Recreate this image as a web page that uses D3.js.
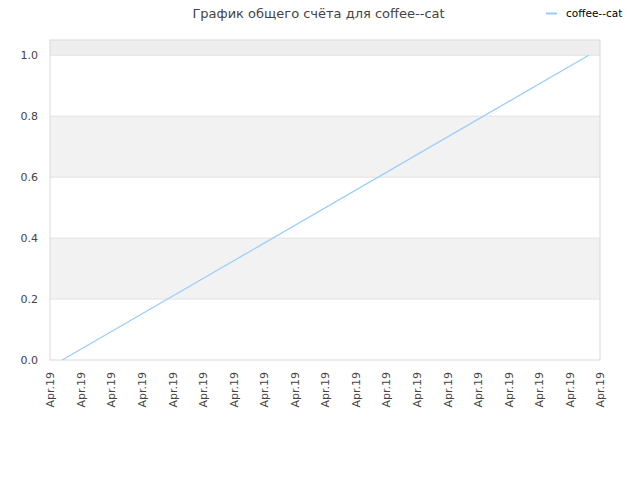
<!DOCTYPE html>
<html>
<head>
<meta charset="utf-8">
<script src="https://cdn.jsdelivr.net/npm/d3@7"></script>
<style>
  body { margin: 0; background: #fff; }
  text { font-family: "DejaVu Sans", sans-serif; }
</style>
</head>
<body>
<svg width="640" height="480"></svg>
<script>
const title = "График общего счёта для coffee--cat";
const seriesName = "coffee--cat";
// x positions in tick-interval units
const seriesX = [0.4, 17.63];
const seriesY = [0.0, 1.0];
const xTickLabels = d3.range(19).map(() => "Apr.19");
const yTicks = [0.0, 0.2, 0.4, 0.6, 0.8, 1.0];
const yMax = 1.05;

const svg = d3.select("svg");
const margin = { top: 40, right: 40, bottom: 120, left: 50 };
const width = +svg.attr("width") - margin.left - margin.right;
const height = +svg.attr("height") - margin.top - margin.bottom;
const g = svg.append("g").attr("transform", `translate(${margin.left},${margin.top})`);

const x = d3.scaleLinear().domain([0, xTickLabels.length - 1]).range([0, width]);
const y = d3.scaleLinear().domain([0, yMax]).range([height, 0]);

// alternating bands
const bands = [[0.2, 0.4], [0.6, 0.8]];
g.selectAll(".band")
  .data(bands)
  .enter()
  .append("rect")
  .attr("x", 0)
  .attr("width", width)
  .attr("y", (d) => y(d[1]))
  .attr("height", (d) => y(d[0]) - y(d[1]))
  .attr("fill", "#f2f2f2");
g.append("rect")
  .attr("x", 0)
  .attr("width", width)
  .attr("y", y(yMax))
  .attr("height", y(1.0) - y(yMax))
  .attr("fill", "#eeeeee");

g.selectAll(".grid")
  .data(yTicks.slice(1))
  .enter()
  .append("line")
  .attr("x1", 0)
  .attr("x2", width)
  .attr("y1", (d) => y(d))
  .attr("y2", (d) => y(d))
  .attr("stroke", "#e2e2e2");

g.append("rect")
  .attr("width", width)
  .attr("height", height)
  .attr("fill", "none")
  .attr("stroke", "#d9d9d9");

// y axis
const yAxis = g.append("g")
  .call(d3.axisLeft(y).tickValues(yTicks).tickFormat(d3.format(".1f")).tickSize(0).tickPadding(12));
yAxis.select(".domain").remove();
yAxis.selectAll("text").attr("fill", "#444").style("font-size", "11px");

// x axis
const xAxis = g.append("g")
  .attr("transform", `translate(0,${height})`)
  .call(d3.axisBottom(x).tickValues(d3.range(xTickLabels.length)).tickFormat((i) => xTickLabels[i]).tickSize(0));
xAxis.select(".domain").remove();
xAxis.selectAll("text")
  .attr("fill", "#444")
  .style("font-size", "11px")
  .attr("transform", "rotate(-90)")
  .attr("x", -12)
  .attr("y", 0)
  .attr("dy", "0.35em")
  .style("text-anchor", "end");

// series
const pts = seriesX.map((d, i) => [d, seriesY[i]]);
g.append("path")
  .datum(pts)
  .attr("fill", "none")
  .attr("stroke", "#99ccff")
  .attr("stroke-width", 1.2)
  .attr("d", d3.line().x((d) => x(d[0])).y((d) => y(d[1])));

// title
svg.append("text")
  .attr("x", 318.5)
  .attr("y", 18)
  .attr("text-anchor", "middle")
  .attr("fill", "#444")
  .style("font-size", "13px")
  .text(title);

// legend
svg.append("line")
  .attr("x1", 546).attr("x2", 557)
  .attr("y1", 13.5).attr("y2", 13.5)
  .attr("stroke", "#99ccff").attr("stroke-width", 2);
svg.append("text")
  .attr("x", 566)
  .attr("y", 17)
  .attr("fill", "#000")
  .style("font-size", "10.5px")
  .text(seriesName);
</script>
</body>
</html>
